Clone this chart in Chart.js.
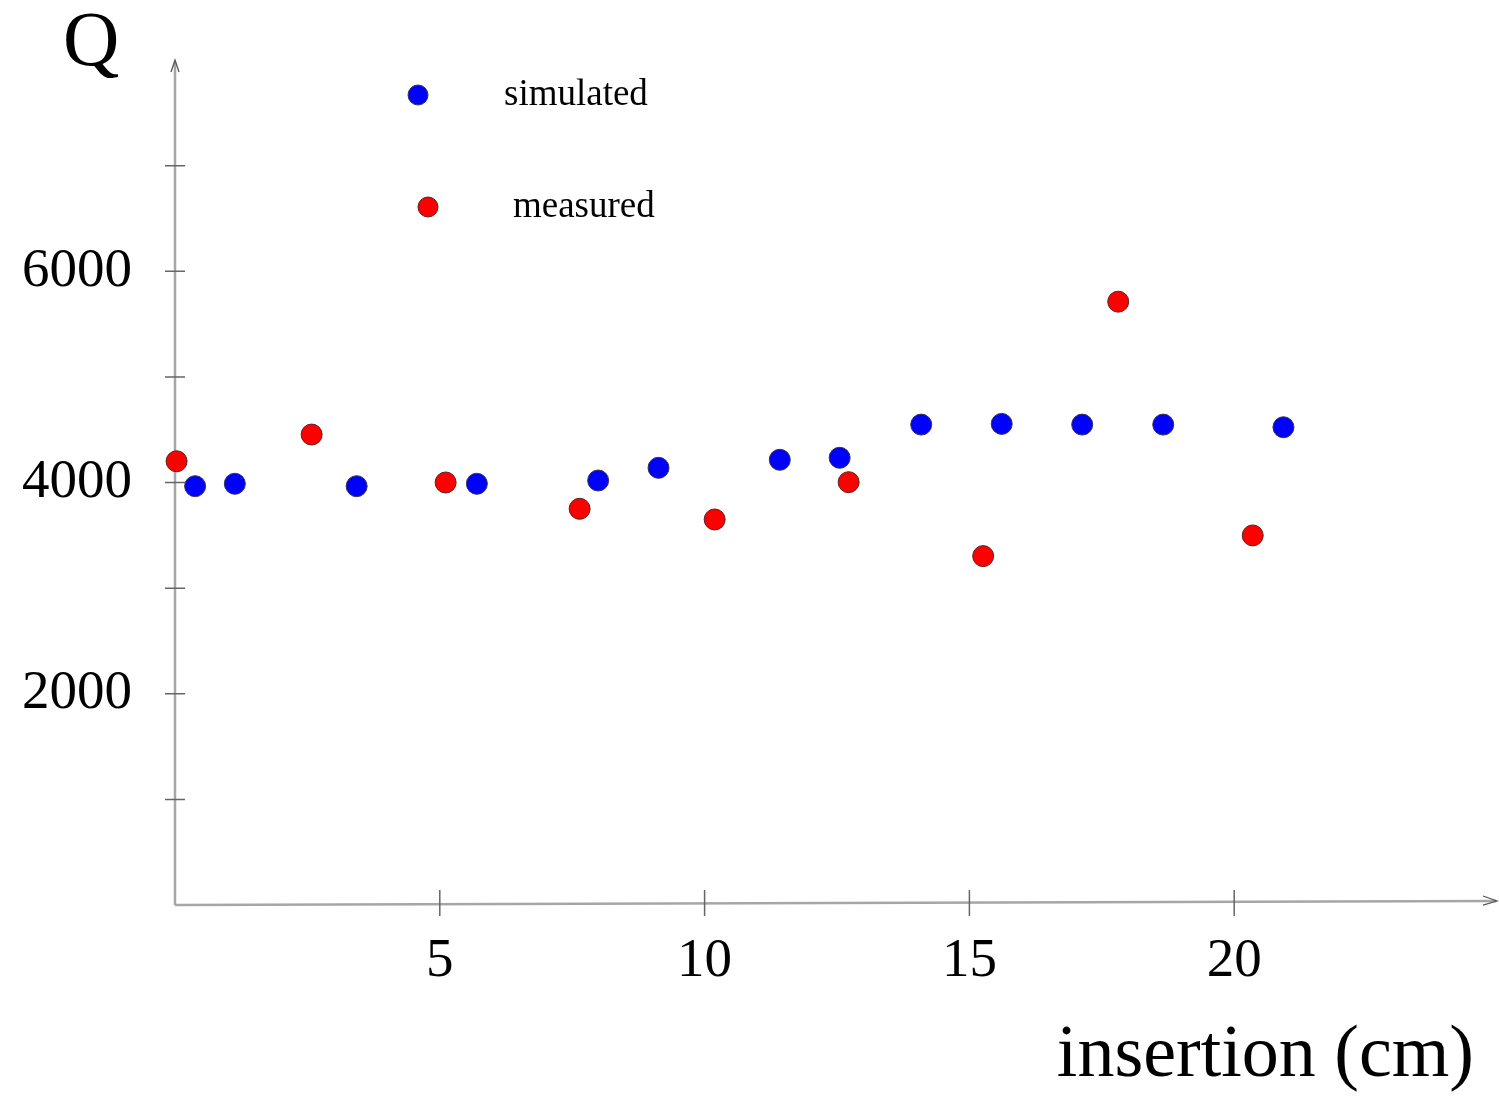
<!DOCTYPE html>
<html>
<head>
<meta charset="utf-8">
<script src="https://cdn.jsdelivr.net/npm/chart.js@4/dist/chart.umd.min.js"></script>
<style>
  html, body { margin: 0; padding: 0; background: #fff; overflow: hidden; }
  #wrap { width: 1499px; height: 1096px; }
</style>
</head>
<body>
<div id="wrap"><canvas id="myChart"></canvas></div>
<script>
// insertion (cm) and Q values
const simX = [0.38, 1.13, 3.43, 5.70, 7.99, 9.13, 11.42, 12.55, 14.09, 15.61, 17.13, 18.66, 20.93];
const simQ = [3965, 3988, 3965, 3988, 4019, 4139, 4215, 4234, 4548, 4555, 4548, 4548, 4523];
const measX = [0.03, 2.58, 5.11, 7.64, 10.19, 12.72, 15.26, 17.81, 20.35];
const measQ = [4201, 4454, 4000, 3751, 3650, 4003, 3303, 5712, 3499];
const xTickLabels = [5, 10, 15, 20];
const yTickLabels = [2000, 4000, 6000];
const yMinorTicks = [1000, 2000, 3000, 4000, 5000, 6000, 7000];

const serif = '"Liberation Serif", "Times New Roman", serif';

const toPoints = (xs, ys) => xs.map((x, i) => ({x: x, y: ys[i]}));

// axes with arrows, tick crosses, axis titles and legend
const decor = {
    id: 'decor',
    beforeDatasetsDraw(chart) {
        const ctx = chart.ctx;
        const a = chart.chartArea;
        const xs = chart.scales.x, ys = chart.scales.y;
        ctx.save();
        ctx.strokeStyle = '#a6a6a6';
        ctx.lineWidth = 2.5;
        ctx.beginPath();
        ctx.moveTo(a.left, a.bottom);
        ctx.lineTo(a.left, a.top + 2);
        ctx.moveTo(a.left, a.bottom);
        ctx.lineTo(a.right - 3, a.bottom - 4);
        ctx.stroke();
        // arrow heads
        ctx.strokeStyle = '#555';
        ctx.lineWidth = 1.3;
        ctx.beginPath();
        ctx.moveTo(a.left - 4, a.top + 12);
        ctx.lineTo(a.left, a.top);
        ctx.lineTo(a.left + 4, a.top + 12);
        ctx.moveTo(a.right - 16, a.bottom - 9);
        ctx.lineTo(a.right - 2, a.bottom - 4);
        ctx.lineTo(a.right - 16, a.bottom - 0);
        ctx.stroke();
        // tick crosses
        ctx.strokeStyle = '#666';
        ctx.lineWidth = 1.5;
        ctx.beginPath();
        yMinorTicks.forEach(v => {
            const py = ys.getPixelForValue(v);
            ctx.moveTo(a.left - 10, py);
            ctx.lineTo(a.left + 10, py);
        });
        xTickLabels.forEach(v => {
            const px = xs.getPixelForValue(v);
            ctx.moveTo(px, a.bottom - 15);
            ctx.lineTo(px, a.bottom + 11);
        });
        ctx.stroke();
        ctx.restore();
    },
    afterDraw(chart) {
        const ctx = chart.ctx;
        ctx.save();
        ctx.fillStyle = '#000';
        ctx.textBaseline = 'alphabetic';
        ctx.textAlign = 'left';
        ctx.font = '78px ' + serif;
        ctx.fillText('Q', 63, 65);
        ctx.font = '74px ' + serif;
        ctx.textAlign = 'right';
        ctx.fillText('insertion (cm)', 1474, 1076);
        // legend
        ctx.textAlign = 'left';
        ctx.font = '37px ' + serif;
        const items = [
            {ds: chart.data.datasets[0], mx: 418, my: 95, tx: 504, ty: 105},
            {ds: chart.data.datasets[1], mx: 428, my: 207, tx: 513, ty: 217}
        ];
        items.forEach(it => {
            ctx.beginPath();
            ctx.arc(it.mx, it.my, 10, 0, Math.PI * 2);
            ctx.fillStyle = it.ds.backgroundColor;
            ctx.fill();
            ctx.lineWidth = 1;
            ctx.strokeStyle = it.ds.borderColor;
            ctx.stroke();
            ctx.fillStyle = '#000';
            ctx.fillText(it.ds.label, it.tx, it.ty);
        });
        ctx.restore();
    }
};

const myChart = new Chart(document.getElementById('myChart'), {
    type: 'scatter',
    data: {
        datasets: [
            {
                label: 'simulated',
                data: toPoints(simX, simQ),
                backgroundColor: '#0000ff',
                borderColor: '#333355',
                borderWidth: 1,
                pointRadius: 10.5,
                clip: false
            },
            {
                label: 'measured',
                data: toPoints(measX, measQ),
                backgroundColor: '#ff0000',
                borderColor: '#552222',
                borderWidth: 1,
                pointRadius: 10.5,
                clip: false
            }
        ]
    },
    options: {
        responsive: true,
        maintainAspectRatio: false,
        animation: false,
        layout: {autoPadding: false, padding: {top: 60, right: 0, left: 0, bottom: 0}},
        plugins: {
            legend: {display: false},
            tooltip: {enabled: false}
        },
        scales: {
            x: {
                type: 'linear',
                min: 0,
                max: 25,
                afterFit: s => {
                    s.height = 191;
                    s.paddingLeft = 0;
                    s.paddingRight = 0;
                },
                grid: {display: false, drawTicks: false},
                border: {display: false},
                ticks: {
                    stepSize: 5,
                    autoSkip: false,
                    maxRotation: 0,
                    padding: 0,
                    color: '#000',
                    font: {family: serif, size: 55, lineHeight: 2.07},
                    callback: v => xTickLabels.includes(v) ? String(v) : ''
                }
            },
            y: {
                type: 'linear',
                min: 0,
                max: 8000,
                afterFit: s => {
                    s.width = 175;
                    s.paddingTop = 0;
                    s.paddingBottom = 0;
                },
                grid: {display: false, drawTicks: false},
                border: {display: false},
                ticks: {
                    stepSize: 1000,
                    autoSkip: false,
                    padding: 43,
                    color: '#000',
                    font: {family: serif, size: 55},
                    callback: v => yTickLabels.includes(v) ? String(v) : ''
                }
            }
        }
    },
    plugins: [decor]
});
</script>
</body>
</html>
